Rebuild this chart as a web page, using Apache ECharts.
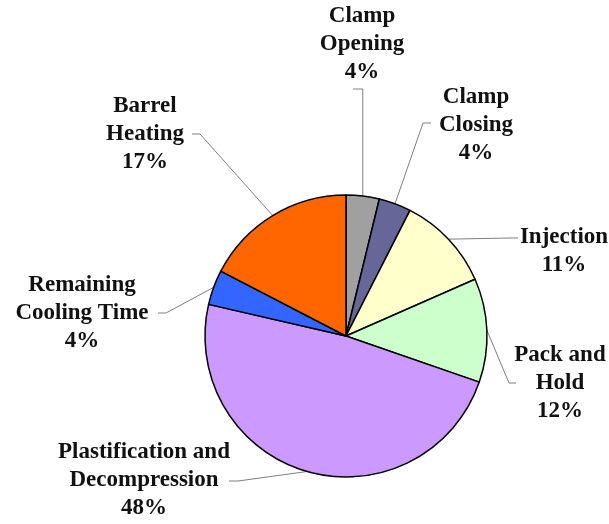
<!DOCTYPE html>
<html>
<head>
<meta charset="utf-8">
<script src="https://cdn.jsdelivr.net/npm/echarts@6/dist/echarts.min.js"></script>
<style>
  html, body { margin: 0; padding: 0; background: #fff; }
  #chart { width: 609px; height: 524px; }
</style>
</head>
<body>
<div id="chart"></div>
<script>
// ---- data ----
const categories = [
  'Clamp\nOpening',
  'Clamp\nClosing',
  'Injection',
  'Pack and\nHold',
  'Plastification and\nDecompression',
  'Remaining\nCooling Time',
  'Barrel\nHeating'
];
const shares = [3.8, 3.7, 10.9, 11.9, 48.3, 4.0, 17.4];
const sliceColors = ['#A0A0A0', '#666699', '#FFFFCC', '#CCFFCC', '#CC99FF', '#3366FF', '#FF6600'];

// ---- label layout (label centre, leader bend, leader end) ----
const labelCenters = [[362, 44], [476, 125], [564, 251], [560, 383], [144, 480], [82, 313], [145, 134]];
const leaderBends  = [null, [423, 123], [510, 238], [509, 383], [238, 481], [166, 313], [200, 134]];
const leaderEnds   = [[353, 89], [431, 123], [518, 238], [516, 383], [229, 481], [158, 313], [192, 134]];

const chart = echarts.init(document.getElementById('chart'), null, { renderer: 'canvas' });

chart.setOption({
  animation: false,
  backgroundColor: '#ffffff',
  series: [{
    type: 'pie',
    center: [346, 336],
    radius: 141,
    startAngle: 90,
    clockwise: true,
    avoidLabelOverlap: false,
    emphasis: { disabled: true },
    data: categories.map((name, i) => ({
      name: name,
      value: shares[i],
      itemStyle: { color: sliceColors[i] }
    })),
    itemStyle: { borderColor: '#000000', borderWidth: 1.5 },
    label: {
      show: true,
      position: 'outside',
      formatter: p => p.name + '\n' + Math.round(p.percent) + '%',
      fontFamily: 'Liberation Serif',
      fontWeight: 'bold',
      fontSize: 23,
      lineHeight: 28,
      color: '#111111',
      align: 'center'
    },
    labelLine: {
      show: true,
      length: 10,
      length2: 10,
      lineStyle: { color: '#808080', width: 1 }
    },
    labelLayout: function (params) {
      const i = params.dataIndex;
      const start = params.labelLinePoints ? params.labelLinePoints[0] : null;
      let pts = null;
      if (start) {
        const bend = leaderBends[i] ? leaderBends[i] : [start[0], leaderEnds[i][1]];
        pts = [start, bend, leaderEnds[i]];
      }
      return {
        x: labelCenters[i][0],
        y: labelCenters[i][1],
        align: 'center',
        verticalAlign: 'middle',
        labelLinePoints: pts
      };
    }
  }]
});
</script>
</body>
</html>
